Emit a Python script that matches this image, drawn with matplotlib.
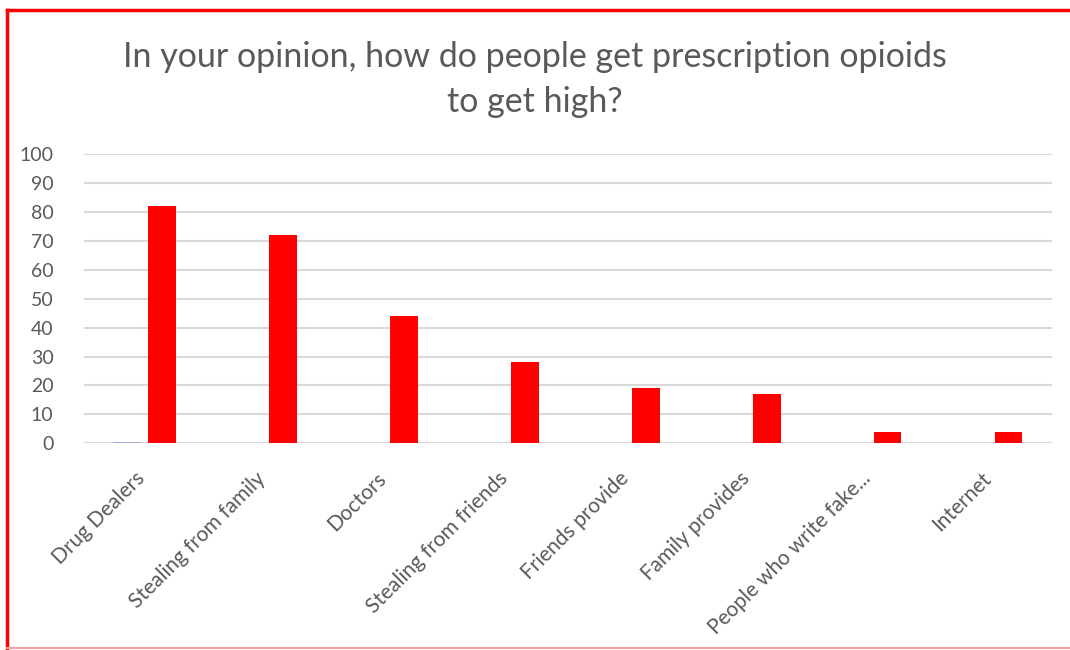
import matplotlib
matplotlib.use("Agg")
import numpy as np
import matplotlib.pyplot as plt
import matplotlib.transforms as mtransforms
from matplotlib.lines import Line2D

categories = ["Drug Dealers", "Stealing from family", "Doctors", "Stealing from friends",
              "Friends provide", "Family provides", "People who write fake...", "Internet"]
series_a = [0.6, 0, 0, 0, 0, 0, 0, 0]          # nearly empty first series
series_b = [82, 72, 44, 28, 19, 17, 4, 4]
y_ticks = list(range(0, 101, 10))

plt.rcParams["font.family"] = ["Lato", "DejaVu Sans"]
grey = "#595959"

fig = plt.figure(figsize=(10.7, 6.5), dpi=100)
ax = fig.add_axes([0.0785, 0.318, 0.9045, 0.445])

x = np.arange(len(categories))
w = 0.225
ax.bar(x - 0.145, series_a, width=w, color="#9fb0d4", zorder=3)
ax.bar(x + 0.145, series_b, width=w, color="#ff0000", zorder=3)

ax.set_xlim(-0.5, len(categories) - 0.5)
ax.set_ylim(0, 100)
ax.set_yticks(y_ticks)
ax.yaxis.grid(True, color="#d9d9d9", linewidth=1.5, zorder=0)
ax.set_axisbelow(True)
for s in ax.spines.values():
    s.set_visible(False)
ax.tick_params(axis="both", length=0, colors=grey, labelsize=14)
ax.tick_params(axis="y", pad=22)
ax.set_xticks(x)
ax.set_xticklabels(categories, rotation=45, ha="right", va="top",
                   rotation_mode="anchor", color=grey, fontsize=15)
ax.tick_params(axis="x", pad=18)
shift = mtransforms.ScaledTranslation(-10 / 100, 0, fig.dpi_scale_trans)
for lbl in ax.get_xticklabels():
    lbl.set_transform(lbl.get_transform() + shift)

fig.text(0.5, 0.878, "In your opinion, how do people get prescription opioids\nto get high?",
         ha="center", va="center", fontsize=24.5, color=grey, linespacing=1.5)

# red frame: left and top edges, faint bottom edge
fig.add_artist(Line2D([7 / 1070, 7 / 1070], [0, 640 / 650], transform=fig.transFigure,
                      color="#ff0000", linewidth=2.5))
fig.add_artist(Line2D([7 / 1070, 1], [640 / 650, 640 / 650], transform=fig.transFigure,
                      color="#ff0000", linewidth=2.5))
fig.add_artist(Line2D([7 / 1070, 1], [2 / 650, 2 / 650], transform=fig.transFigure,
                      color="#f4a0a0", linewidth=1.5))

fig.savefig("out.png", dpi=100)
